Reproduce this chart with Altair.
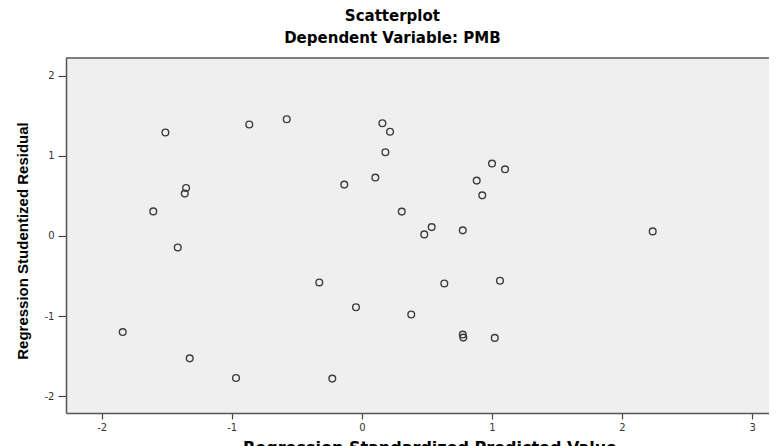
import altair as alt
import pandas as pd

# Regression Standardized Predicted Value (x) and Studentized Residual (y)
pred = [-1.51, -0.865, -0.577, 0.158, 0.217, 0.181, 0.104, -0.135, -1.351, -1.361,
        -1.603, -1.415, 0.307, 1.001, 1.101, 0.883, 0.926, 0.537, 0.48, 0.776,
        2.236, 0.634, 1.062, -0.327, -0.045, 0.38, -1.838, 0.776, 0.78, 1.022,
        -1.323, -0.967, -0.227]
resid = [1.29, 1.39, 1.456, 1.406, 1.30, 1.044, 0.728, 0.64, 0.598, 0.528,
         0.306, -0.144, 0.303, 0.903, 0.831, 0.69, 0.506, 0.11, 0.019, 0.069,
         0.056, -0.594, -0.56, -0.581, -0.89, -0.981, -1.2, -1.231, -1.269, -1.273,
         -1.528, -1.773, -1.781]
x_ticks = [-2, -1, 0, 1, 2, 3]
y_ticks = [-2, -1, 0, 1, 2]

df = pd.DataFrame({"pred": pred, "resid": resid})

W, H = 703, 355
hyphen_labels = "datum.value < 0 ? '-' + abs(datum.value) : '' + datum.value"

points = alt.Chart(df).mark_point(
    shape="circle", filled=False, size=45, color="#3c3c3c", strokeWidth=1.4, opacity=1
).encode(
    x=alt.X("pred:Q",
            scale=alt.Scale(domain=[-2.274, 3.13], nice=False, zero=False),
            axis=alt.Axis(values=x_ticks, title="Regression Standardized Predicted Value",
                          tickSize=6, labelPadding=3, labelExpr=hyphen_labels,
                          titleX=W / 2 + 12, titleY=26, titleBaseline="top",
                          titleFontSize=16)),
    y=alt.Y("resid:Q",
            scale=alt.Scale(domain=[-2.21, 2.22], nice=False, zero=False),
            axis=alt.Axis(values=y_ticks, title="Regression Studentized Residual",
                          tickSize=8, labelPadding=4, labelExpr=hyphen_labels,
                          titleX=-36, titleY=H / 2 + 5,
                          titleFont="Liberation Sans", titleFontSize=15)),
)

top_line = alt.Chart(pd.DataFrame({"a": [0]})).mark_rule(
    color="#555555", strokeWidth=1.5
).encode(x=alt.value(0), x2=alt.value(W), y=alt.value(0))

chart = alt.layer(points, top_line).properties(
    width=W, height=H,
    autosize=alt.AutoSizeParams(type="none"),
    padding={"left": 58, "top": 50, "right": 0, "bottom": 40},
    title=alt.TitleParams(
        text=["Scatterplot", "Dependent Variable: PMB"],
        font="DejaVu Sans", fontSize=15, fontWeight="bold", color="#000000",
        lineHeight=22, anchor="middle", frame="bounds", offset=11,
    ),
).configure_view(
    fill="#efefef", strokeWidth=0
).configure_axis(
    grid=False, domainColor="#555555", domainWidth=1.5,
    tickColor="#444444", tickWidth=1.2,
    labelFont="DejaVu Sans", labelFontSize=10, labelColor="#333333",
    titleFont="DejaVu Sans", titleFontSize=15, titleFontWeight="bold", titleColor="#000000",
)

chart.save("out.html", embed_options={"renderer": "svg", "actions": False})
